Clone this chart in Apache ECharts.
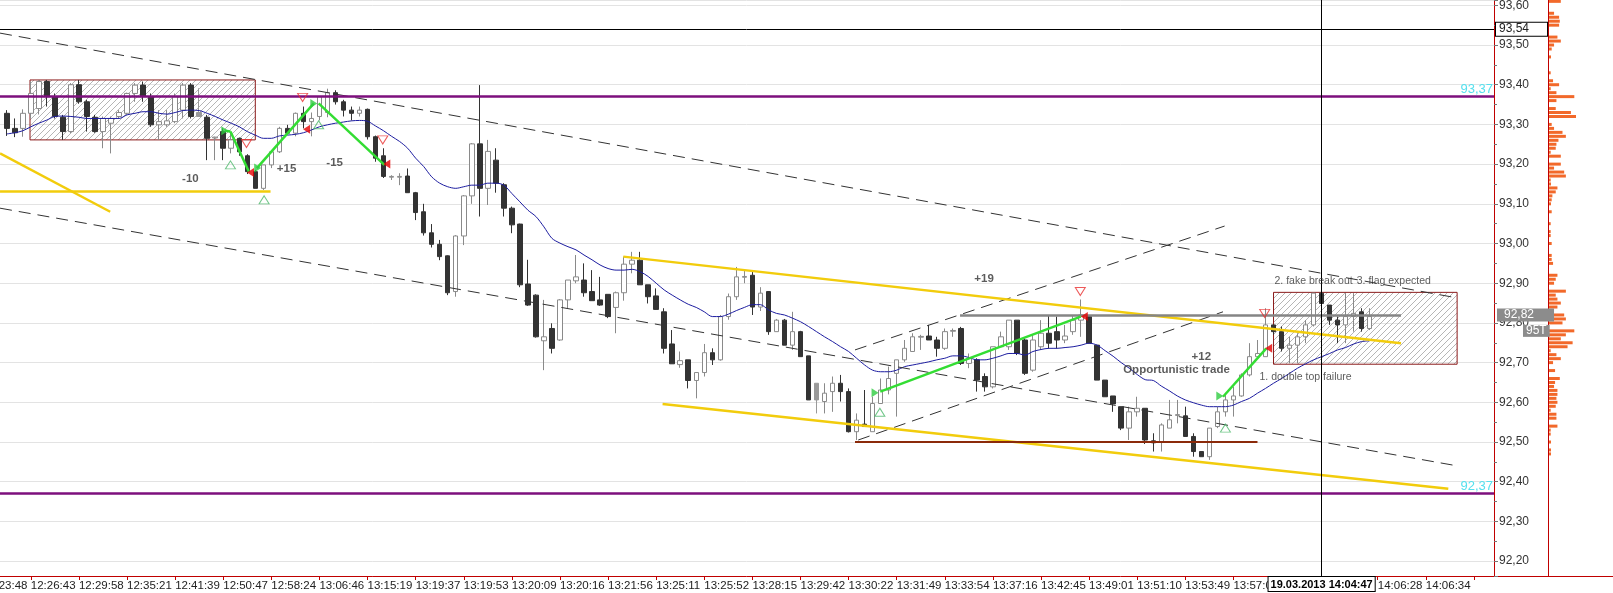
<!DOCTYPE html>
<html><head><meta charset="utf-8">
<script src="https://cdn.jsdelivr.net/npm/echarts@6.0.0/dist/echarts.min.js"></script>
<style>html,body{margin:0;padding:0;background:#fff}#c{width:1613px;height:593px}</style>
</head><body><div id="c"></div>
<script>
// ---- tick labels (one every 6 bars, first one is cut by the left edge) ----
const tickLabels = ['12:23:48','12:26:43','12:29:58','12:35:21','12:41:39','12:50:47','12:58:24','13:06:46','13:15:19','13:19:37','13:19:53','13:20:09','13:20:16','13:21:56','13:25:11','13:25:52','13:28:15','13:29:42','13:30:22','13:31:49','13:33:54','13:37:16','13:42:45','13:49:01','13:51:10','13:53:49','13:57:0','','','14:06:28','14:06:34',''];
// ---- candles [open, close, low, high] ----
const candles = [
[93.328,93.290,93.271,93.336],[93.290,93.279,93.268,93.315],[93.290,93.328,93.269,93.338],[93.328,93.378,93.315,93.408],[93.340,93.408,93.325,93.412],
[93.408,93.370,93.345,93.412],[93.370,93.320,93.315,93.378],[93.318,93.282,93.261,93.324],[93.282,93.400,93.278,93.404],[93.400,93.357,93.352,93.412],
[93.357,93.320,93.282,93.362],[93.318,93.282,93.279,93.324],[93.282,93.315,93.240,93.320],[93.303,93.315,93.227,93.320],[93.320,93.330,93.315,93.336],
[93.328,93.378,93.324,93.380],[93.378,93.399,93.357,93.404],[93.399,93.370,93.357,93.408],[93.370,93.299,93.294,93.378],[93.299,93.307,93.261,93.336],
[93.299,93.309,93.294,93.336],[93.307,93.370,93.303,93.378],[93.336,93.399,93.315,93.404],[93.399,93.320,93.315,93.404],[93.320,93.330,93.320,93.391],
[93.318,93.265,93.210,93.324],[93.266,93.268,93.210,93.269],[93.282,93.240,93.210,93.290],[93.240,93.261,93.227,93.282],[93.265,93.231,93.221,93.267],
[93.221,93.181,93.175,93.225],[93.181,93.139,93.139,93.185],[93.139,93.198,93.135,93.198],[93.198,93.231,93.190,93.235],[93.231,93.290,93.228,93.294],
[93.290,93.278,93.275,93.299],[93.278,93.328,93.270,93.330],[93.328,93.307,93.290,93.345],[93.307,93.315,93.270,93.330],[93.320,93.370,93.310,93.370],
[93.330,93.380,93.318,93.390],[93.380,93.357,93.350,93.386],[93.357,93.336,93.320,93.362],[93.336,93.328,93.310,93.345],[93.328,93.336,93.320,93.345],
[93.338,93.269,93.262,93.340],[93.269,93.215,93.206,93.272],[93.221,93.169,93.165,93.240],[93.167,93.169,93.160,93.172],[93.167,93.169,93.147,93.177],
[93.170,93.128,93.128,93.189],[93.128,93.078,93.059,93.130],[93.080,93.027,93.020,93.100],[93.027,92.998,92.990,93.049],[92.998,92.967,92.958,93.009],
[92.969,92.876,92.870,92.970],[92.879,93.019,92.866,93.021],[93.019,93.120,92.996,93.122],[93.120,93.251,93.100,93.253],[93.251,93.139,93.068,93.399],
[93.139,93.232,93.097,93.261],[93.210,93.152,93.128,93.240],[93.148,93.089,93.068,93.152],[93.089,93.047,93.026,93.093],[93.049,92.896,92.890,93.050],
[92.898,92.845,92.843,92.959],[92.870,92.765,92.763,92.872],[92.755,92.765,92.681,92.858],[92.786,92.736,92.723,92.799],[92.757,92.858,92.755,92.860],
[92.858,92.908,92.837,92.908],[92.906,92.916,92.900,92.971],[92.908,92.876,92.866,92.950],[92.879,92.856,92.856,92.933],[92.858,92.845,92.843,92.916],
[92.872,92.816,92.812,92.872],[92.839,92.876,92.774,92.879],[92.876,92.948,92.856,92.967],[92.948,92.958,92.925,92.979],[92.958,92.896,92.896,92.979],
[92.896,92.866,92.849,92.896],[92.868,92.834,92.833,92.887],[92.828,92.736,92.723,92.837],[92.747,92.697,92.697,92.782],[92.695,92.705,92.687,92.728],
[92.707,92.655,92.635,92.707],[92.655,92.675,92.610,92.675],[92.675,92.725,92.665,92.747],[92.725,92.707,92.694,92.736],[92.707,92.816,92.705,92.820],
[92.816,92.866,92.808,92.874],[92.866,92.916,92.858,92.941],[92.915,92.917,92.900,92.933],[92.920,92.840,92.820,92.930],[92.840,92.875,92.830,92.890],
[92.879,92.778,92.770,92.880],[92.778,92.807,92.778,92.810],[92.807,92.744,92.744,92.810],[92.744,92.778,92.732,92.828],[92.778,92.715,92.715,92.780],
[92.717,92.606,92.606,92.717],[92.648,92.606,92.572,92.648],[92.602,92.623,92.572,92.648],[92.627,92.648,92.576,92.665],[92.648,92.627,92.602,92.669],
[92.627,92.526,92.524,92.635],[92.526,92.555,92.505,92.572],[92.545,92.539,92.539,92.631],[92.526,92.597,92.526,92.614],[92.597,92.631,92.597,92.660],
[92.631,92.660,92.620,92.690],[92.673,92.707,92.564,92.707],[92.707,92.736,92.702,92.757],[92.728,92.765,92.728,92.774],[92.764,92.766,92.732,92.770],
[92.767,92.757,92.757,92.795],[92.757,92.736,92.715,92.765],[92.736,92.778,92.732,92.786],[92.779,92.781,92.765,92.786],[92.786,92.698,92.694,92.790],
[92.698,92.711,92.686,92.723],[92.707,92.656,92.627,92.711],[92.665,92.639,92.627,92.673],[92.639,92.740,92.635,92.740],[92.740,92.765,92.740,92.778],
[92.740,92.807,92.732,92.807],[92.807,92.723,92.719,92.807],[92.757,92.673,92.669,92.761],[92.681,92.757,92.677,92.770],[92.740,92.774,92.732,92.807],
[92.774,92.749,92.736,92.820],[92.778,92.757,92.736,92.816],[92.757,92.767,92.749,92.795],[92.778,92.807,92.770,92.820],[92.807,92.820,92.765,92.859],
[92.816,92.749,92.749,92.820],[92.744,92.656,92.656,92.744],[92.656,92.614,92.614,92.656],[92.616,92.596,92.576,92.616],[92.589,92.535,92.530,92.589],
[92.535,92.576,92.505,92.589],[92.576,92.585,92.564,92.614],[92.585,92.505,92.495,92.585],[92.503,92.498,92.476,92.522],[92.501,92.543,92.476,92.547],
[92.535,92.556,92.535,92.606],[92.567,92.569,92.547,92.606],[92.566,92.514,92.514,92.589],[92.514,92.476,92.463,92.522],[92.476,92.463,92.463,92.476],
[92.463,92.535,92.455,92.535],[92.539,92.576,92.535,92.589],[92.576,92.606,92.564,92.618],[92.606,92.616,92.564,92.639],[92.616,92.669,92.614,92.673],
[92.669,92.715,92.665,92.749],[92.715,92.723,92.715,92.757],[92.715,92.795,92.715,92.837],[92.795,92.778,92.770,92.795],[92.778,92.736,92.728,92.791],
[92.736,92.744,92.698,92.765],[92.744,92.765,92.698,92.774],[92.765,92.795,92.749,92.807],[92.795,92.875,92.791,92.875],[92.875,92.849,92.849,92.879],
[92.845,92.807,92.795,92.845],[92.807,92.795,92.749,92.816],[92.795,92.816,92.749,92.875],[92.816,92.824,92.778,92.875],[92.828,92.786,92.778,92.837],
[92.786,92.816,92.782,92.837]
];
const grayCandles = [24, 101];
// ---- moving average (blue) ----
const maValues = [
93.276,93.279,93.284,93.294,93.303,93.311,93.320,93.321,93.320,93.318,
93.315,93.315,93.315,93.315,93.315,93.324,93.328,93.332,93.332,93.328,
93.326,93.330,93.335,93.336,93.335,93.328,93.320,93.311,93.303,93.294,
93.282,93.273,93.265,93.265,93.271,93.273,93.275,93.279,93.286,93.294,
93.299,93.303,93.306,93.309,93.310,93.308,93.296,93.284,93.270,93.257,
93.240,93.215,93.194,93.168,93.152,93.143,93.139,93.143,93.147,93.147,
93.152,93.152,93.147,93.126,93.105,93.084,93.068,93.042,93.013,93.001,
92.992,92.984,92.971,92.959,92.946,92.937,92.933,92.933,92.935,92.929,
92.917,92.900,92.883,92.870,92.858,92.847,92.839,92.828,92.816,92.816,
92.822,92.831,92.839,92.846,92.846,92.833,92.824,92.820,92.812,92.803,
92.791,92.778,92.765,92.753,92.740,92.728,92.711,92.694,92.681,92.677,
92.677,92.681,92.690,92.694,92.698,92.702,92.707,92.711,92.717,92.717,
92.713,92.707,92.707,92.711,92.717,92.723,92.723,92.719,92.728,92.733,
92.736,92.736,92.738,92.740,92.744,92.749,92.744,92.730,92.716,92.700,
92.686,92.670,92.657,92.655,92.641,92.629,92.616,92.606,92.599,92.593,
92.589,92.589,92.589,92.593,92.602,92.610,92.623,92.635,92.648,92.660,
92.673,92.686,92.697,92.707,92.715,92.723,92.732,92.738,92.747,92.753,
92.755
];
// ---- drawn lines [barFrom, priceFrom, barTo, priceTo] ----
const dashedLines = [[-0.84,93.530,180.9,92.863],[-0.84,93.089,180.9,92.440],[105.8,92.732,151.9,93.044],[106.2,92.505,151.7,92.828]];
const yellowLines = [[-0.84,93.227,12.9,93.080],[-0.84,93.131,32.9,93.131],[76.9,92.967,173.9,92.749],[81.8,92.596,179.8,92.382]];
const greenLines = [[27.2,93.284,27.9,93.282],[27.9,93.282,30.2,93.181],[31.2,93.190,38.3,93.353],[38.9,93.353,47.1,93.198],[108.95,92.627,133.95,92.816],[151.7,92.614,157.1,92.736]];
const brownLines = [[105.8,92.50,156.0,92.50]];
const grayLines = [[118.9,92.82,173.9,92.82]];
const keyLevels = [93.37, 92.37];
const keyLevelLabels = ['93,37', '92,37'];
const blackLevel = 93.54;
const lastPrice = 92.82;
const lastVolumeLabel = '95T';
const crosshairBar = 164;
const crosshairLabel = '19.03.2013 14:04:47';
const hatchRects = [[2.9,93.412,31.0,93.261],[158.0,92.877,180.9,92.696]];
// ---- trade markers [bar, price] ----
const entryMarks = [[27.2,93.284],[31.3,93.190],[38.3,93.353],[108.3,92.624],[151.3,92.616]];
const exitMarks = [[30.4,93.179],[37.4,93.288],[47.4,93.200],[134.4,92.816],[157.4,92.736]];
const buySignals = [[27.9,93.198],[32.1,93.110],[38.9,93.299],[108.9,92.575],[152.0,92.535]];
const sellSignals = [[29.9,93.252],[36.9,93.368],[46.9,93.261],[133.9,92.879],[156.9,92.824]];
// ---- texts [bar, price, text] ----
const tradeResults = [[22.9,93.164,'-10'],[34.9,93.189,'+15'],[40.9,93.202,'-15'],[121.9,92.912,'+19'],[149.0,92.715,'+12'],[145.9,92.681,'Opportunistic trade']];
const notes = [[162.0,92.663,'1. double top failure'],[163.0,92.906,'2. fake break out'],[173.0,92.906,'3. flag expected']];
// ---- volume profile ----
const volumePrices = [93.61,93.58,93.57,93.56,93.55,93.52,93.51,93.50,93.49,93.47,93.43,93.41,93.40,93.39,93.38,93.37,93.36,93.34,93.33,93.32,93.30,93.29,93.28,93.27,93.26,93.25,93.24,93.23,93.22,93.20,93.19,93.18,93.17,93.16,93.15,93.14,93.13,93.12,93.11,93.10,93.08,93.05,93.03,93.02,93.00,92.97,92.96,92.95,92.92,92.91,92.90,92.88,92.87,92.86,92.85,92.84,92.82,92.81,92.80,92.78,92.77,92.76,92.75,92.74,92.73,92.72,92.71,92.70,92.68,92.66,92.65,92.64,92.63,92.62,92.61,92.60,92.59,92.58,92.57,92.56,92.54,92.53,92.52,92.50,92.48,92.47];
const volumeValues = [35,15,30,32,30,25,35,15,8,6,5,12,30,5,22,75,22,20,65,80,8,15,40,50,28,22,20,5,35,35,15,45,50,5,6,25,20,10,8,6,8,5,5,5,8,8,8,12,25,20,15,50,20,25,35,25,45,50,40,75,50,35,70,55,5,22,35,12,18,32,18,15,25,25,22,25,20,5,22,22,25,5,5,6,6,6];

// ---------------- build ----------------
const PAD = 3, NCAT = 189;
const Y_MIN = 92.1625, Y_MAX = 93.6134;
const cats = Array.from({length: NCAT}, (_, c) => String(c));
const grayStyle = {color:'#9a9a9a', color0:'#9a9a9a', borderColor:'#9a9a9a', borderColor0:'#9a9a9a'};
const candleData = cats.map((_, c) => {
  const i = c - PAD;
  if (i < 0 || i >= candles.length) return '-';
  return grayCandles.includes(i) ? {value: candles[i], itemStyle: grayStyle} : candles[i];
});
const maData = cats.map((_, c) => { const i = c - PAD; return (i >= 0 && i < maValues.length) ? maValues[i] : '-'; });

const HIDDEN = {color:'rgba(0,0,0,0)', width:0, type:'solid'};
const seg = (s, style) => [{coord: [s[0], s[1]], lineStyle: style}, {coord: [s[2], s[3]]}];
const lineItems = [];
dashedLines.forEach(s => lineItems.push(seg(s, {color:'#333', width:1, type:[12,7]})));
yellowLines.forEach(s => lineItems.push(seg(s, {color:'#f2cc0c', width:2.5, type:'solid'})));
brownLines.forEach(s => lineItems.push(seg(s, {color:'#8b2a0a', width:2, type:'solid'})));
grayLines.forEach(s => lineItems.push(seg(s, {color:'#858585', width:2.5, type:'solid'})));
greenLines.forEach(s => lineItems.push(seg(s, {color:'#33dd33', width:2.5, type:'solid'})));
keyLevels.forEach((v, k) => lineItems.push({yAxis: v, lineStyle:{color:'#7d0f7d', width:2.5, type:'solid'},
  label:{show:true, position:'insideEndTop', formatter: keyLevelLabels[k], color:'#55e0ee', fontSize:13, distance:1}}));
lineItems.push({yAxis: blackLevel, lineStyle:{color:'#000', width:1, type:'solid'},
  label:{show:true, position:'end', formatter: blackLevel.toFixed(2).replace('.', ','), color:'#222', fontSize:12,
    backgroundColor:'#fff', borderColor:'#000', borderWidth:1, padding:[1,18,0,3], distance:2}});
lineItems.push({yAxis: lastPrice, lineStyle: HIDDEN,
  label:{show:true, position:'end', formatter: lastPrice.toFixed(2).replace('.', ','), color:'#fff', fontSize:12,
    backgroundColor:'#8c8c8c', padding:[1,20,0,7], distance:3}});
lineItems.push({yAxis: lastPrice - 0.035, lineStyle: HIDDEN,
  label:{show:true, position:'end', formatter: lastVolumeLabel, color:'#fff', fontSize:12,
    backgroundColor:'#8c8c8c', padding:[0,3,0,3], distance:29}});
lineItems.push({xAxis: crosshairBar, lineStyle:{color:'#000', width:1, type:'solid'},
  label:{show:true, position:'start', formatter: crosshairLabel, color:'#000', fontSize:11, fontWeight:'bold',
    backgroundColor:'#fff', borderColor:'#000', borderWidth:1, padding:[2,2,1,2], distance:1}});

// hatch pattern
const pc = document.createElement('canvas'); pc.width = 6; pc.height = 6;
const g = pc.getContext('2d'); g.strokeStyle = '#a3a3a3'; g.lineWidth = 0.8;
g.beginPath(); g.moveTo(0,6); g.lineTo(6,0); g.moveTo(-1,1); g.lineTo(1,-1); g.moveTo(5,7); g.lineTo(7,5); g.stroke();

const chart = echarts.init(document.getElementById('c'), null, {renderer:'canvas'});
const FONT = '"Liberation Sans", Arial, sans-serif';
chart.setOption({
  animation: false,
  backgroundColor: '#fff',
  textStyle: {fontFamily: FONT},
  grid: [
    {left: -21.3, right: 119, top: 0, bottom: 17, containLabel:false, outerBoundsMode:'none'},
    {left: 1494, right: 0, top: 0, bottom: 17, containLabel:false, outerBoundsMode:'none'}
  ],
  xAxis: [
    {type:'category', gridIndex:0, data: cats, boundaryGap:true,
     axisLine:{onZero:false, lineStyle:{color:'#c00000'}},
     axisTick:{show:true, alignWithLabel:true, length:4, interval:(c)=>c%6===0, lineStyle:{color:'#c00000'}},
     axisLabel:{interval:(c)=>c%6===0, align:'left', margin:4, color:'#222', fontSize:11.5,
       formatter:(v, c)=> tickLabels[Math.round(c/6)] || ''},
     splitLine:{show:false}},
    {type:'value', gridIndex:0, min:-PAD-0.5, max:NCAT-PAD-0.5, show:false, splitLine:{show:false}},
    {type:'value', gridIndex:1, min:-160, max:192.6, position:'bottom',
     axisLine:{show:true, onZero:false, lineStyle:{color:'#c00000'}}, axisTick:{show:false}, axisLabel:{show:false}, splitLine:{show:false}}
  ],
  yAxis: [
    {type:'value', gridIndex:0, position:'right', min:Y_MIN, max:Y_MAX, splitNumber:14,
     axisLine:{show:true, onZero:false, lineStyle:{color:'#c00000'}},
     axisTick:{show:true, length:4, lineStyle:{color:'#777'}},
     minorTick:{show:true, splitNumber:2, length:3, lineStyle:{color:'#777'}},
     axisLabel:{color:'#333', fontSize:12, margin:5, showMinLabel:false, showMaxLabel:false,
       formatter:(v)=> v.toFixed(2).replace('.', ',')},
     splitLine:{show:true, lineStyle:{color:'#e3e3e3'}}},
    {type:'value', gridIndex:1, min:Y_MIN, max:Y_MAX,
     axisLine:{show:true, onZero:true, lineStyle:{color:'#c00000'}}, axisTick:{show:false}, axisLabel:{show:false}, splitLine:{show:false}}
  ],
  series: [
    {type:'line', name:'areas', xAxisIndex:1, yAxisIndex:0, data:[], z:1, silent:true,
     markArea:{silent:true, itemStyle:{color:{image:pc, repeat:'repeat'}, borderColor:'#8b1a1a', borderWidth:1},
       data: hatchRects.map(r => [{coord:[r[0], r[1]]}, {coord:[r[2], r[3]]}])}},
    {type:'candlestick', name:'bars', xAxisIndex:0, yAxisIndex:0, data: candleData, barWidth:5, z:2, silent:true,
     itemStyle:{color:'#ffffff', color0:'#333333', borderColor:'#8a8a8a', borderColor0:'#333333', borderWidth:1}},
    {type:'line', name:'ma', xAxisIndex:0, yAxisIndex:0, data: maData, smooth:0.3, showSymbol:false, z:3, silent:true,
     lineStyle:{color:'#1c1ca0', width:1}},
    {type:'line', name:'lines', xAxisIndex:1, yAxisIndex:0, data:[], z:4, silent:true,
     markLine:{silent:true, symbol:['none','none'], label:{show:false}, data: lineItems}},
    {type:'scatter', name:'entry', xAxisIndex:1, yAxisIndex:0, data: entryMarks, z:5, silent:true,
     symbol:'path://M0,0L10,5L0,10Z', symbolSize:[7,9], itemStyle:{color:'#2ecc40'}},
    {type:'scatter', name:'exit', xAxisIndex:1, yAxisIndex:0, data: exitMarks, z:5, silent:true,
     symbol:'path://M10,0L0,5L10,10Z', symbolSize:[7,9], itemStyle:{color:'#e60000'}},
    {type:'scatter', name:'buy', xAxisIndex:1, yAxisIndex:0, data: buySignals, z:5, silent:true,
     symbol:'triangle', symbolSize:[10,8], itemStyle:{color:'rgba(255,255,255,0)', borderColor:'#4cb86a', borderWidth:1}},
    {type:'scatter', name:'sell', xAxisIndex:1, yAxisIndex:0, data: sellSignals, z:5, silent:true,
     symbol:'path://M0,0L10,0L5,10Z', symbolSize:[10,8], itemStyle:{color:'rgba(255,255,255,0)', borderColor:'#e83030', borderWidth:1}},
    {type:'scatter', name:'results', xAxisIndex:1, yAxisIndex:0, z:6, silent:true, symbolSize:1,
     itemStyle:{color:'rgba(0,0,0,0)'},
     data: tradeResults.map(t => ({value:[t[0], t[1]], name:t[2]})),
     label:{show:true, position:'inside', formatter:(p)=>p.name, color:'#333', fontSize:11.5, fontWeight:'bold'}},
    {type:'scatter', name:'notes', xAxisIndex:1, yAxisIndex:0, z:6, silent:true, symbolSize:1,
     itemStyle:{color:'rgba(0,0,0,0)'},
     data: notes.map(t => ({value:[t[0], t[1]], name:t[2]})),
     label:{show:true, position:'inside', formatter:(p)=>p.name, color:'#333', fontSize:10.5}},
    {type:'custom', name:'profile', xAxisIndex:2, yAxisIndex:1, silent:true, z:2,
     data: volumePrices.map((p, k) => [volumeValues[k], p]),
     renderItem:(params, api) => {
       const s = api.coord([0, api.value(1)]);
       const e = api.coord([api.value(0), api.value(1)]);
       return {type:'rect', shape:{x:s[0]+1, y:s[1]-1.5, width:e[0]-s[0], height:3}, style:{fill:'#f2692a'}};
     }}
  ]
});
</script>
</body></html>
